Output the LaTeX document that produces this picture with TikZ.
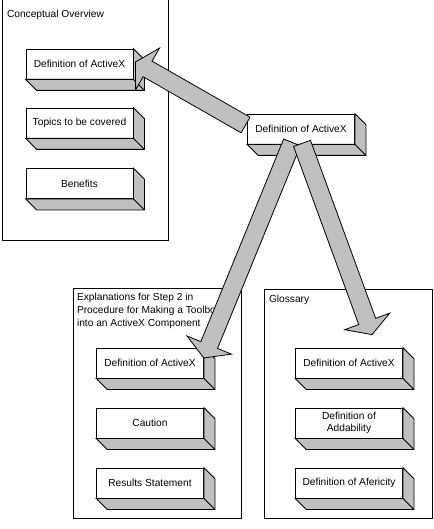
\documentclass[tikz,border=0pt]{standalone}
\usepackage{fontspec}
\setmainfont{Liberation Sans}
\usetikzlibrary{calc}
\definecolor{boxgray}{RGB}{192,192,192}

\newcommand{\extrude}[1]{%
    \draw[side] (#1.north east) -- ([shift={(11pt,-11pt)}]#1.north east) -- ([shift={(11pt,-11pt)}]#1.south east) -- ([shift={(11pt,-11pt)}]#1.south west) -- (#1.south west) -- (#1.south east) -- cycle;
    \draw (#1.south east) -- ([shift={(11pt,-11pt)}]#1.south east);
}
\newcommand{\fatarrow}[2]{%
    \coordinate (hb) at ($(#2)!14pt!(#1)$);
    \draw[fat] ($(#1)!9pt!90:(#2)$) -- ($(hb)!9pt!-90:(#1)$) -- ($(hb)!24pt!-90:(#1)$) -- (#2) -- ($(hb)!24pt!90:(#1)$) -- ($(hb)!9pt!90:(#1)$) -- ($(#1)!9pt!-90:(#2)$) -- cycle;
}

\begin{document}
\begin{tikzpicture}[x=1pt,y=-1pt,line width=0.8pt,font=\fontsize{10.2}{12.5}\selectfont,
            panel/.style={rectangle,draw,inner sep=0pt},
            title/.style={anchor=north west,inner sep=0pt,align=left,font=\fontsize{10.2}{13}\selectfont},
            face/.style={rectangle,draw,fill=white,minimum width=107pt,minimum height=30pt,inner sep=0pt,align=center},
            side/.style={draw,fill=boxgray},
            fat/.style={draw,fill=boxgray,line join=miter}]

            \useasboundingbox (0,0) rectangle (433,529);

            \node [panel,minimum width=166pt,minimum height=241pt] (cpanel) at (85,119.5) {};
            \node [panel,minimum width=168pt,minimum height=230pt] (epanel) at (157,403) {};
            \node [panel,minimum width=168pt,minimum height=229pt] (gpanel) at (348,403.5) {};

            \node [title] (ctitle) at ([shift={(5pt,-11pt)}]cpanel.north west) {Conceptual Overview};
            \node [title] (etitle) at ([shift={(4pt,-5pt)}]epanel.north west) {Explanations for Step 2 in\\Procedure for Making a Toolbox\\into an ActiveX Component};
            \node [title] (gtitle) at ([shift={(5pt,-6pt)}]gpanel.north west) {Glossary};

            \node [face] (cdef) at (79.5,64) {Definition of ActiveX};
            \node [face] (ctop) at (79.5,123) {Topics to be covered};
            \node [face] (cben) at (79.5,183.5) {Benefits};
            \node [face] (mdef) at (301,129) {Definition of ActiveX};
            \node [face] (edef) at (150,363) {Definition of ActiveX};
            \node [face] (ecau) at (150,423) {Caution};
            \node [face] (eres) at (150,483) {Results Statement};
            \node [face] (gdef) at (349,363) {Definition of ActiveX};
            \node [face] (gadd) at (349,423) {Definition of\\Addability};
            \node [face] (gafe) at (349,483) {Definition of Afericity};

            \extrude{cdef}
            \extrude{ctop}
            \extrude{cben}
            \extrude{mdef}
            \extrude{edef}
            \extrude{ecau}
            \extrude{eres}
            \extrude{gdef}
            \extrude{gadd}
            \extrude{gafe}

            \coordinate (t1) at ([shift={(-1.5pt,4pt)}]mdef.west);
            \coordinate (h1) at ([shift={(2pt,2pt)}]cdef.east);
            \coordinate (t2) at ([shift={(-9pt,2pt)}]mdef.south);
            \coordinate (h2) at ([shift={(0pt,5pt)}]edef.east);
            \coordinate (t3) at ([shift={(1pt,1pt)}]mdef.south);
            \coordinate (h3) at ([shift={(23pt,13pt)}]gdef.north);

            \fatarrow{t1}{h1}
            \fatarrow{t2}{h2}
            \fatarrow{t3}{h3}

        \end{tikzpicture}
\end{document}
